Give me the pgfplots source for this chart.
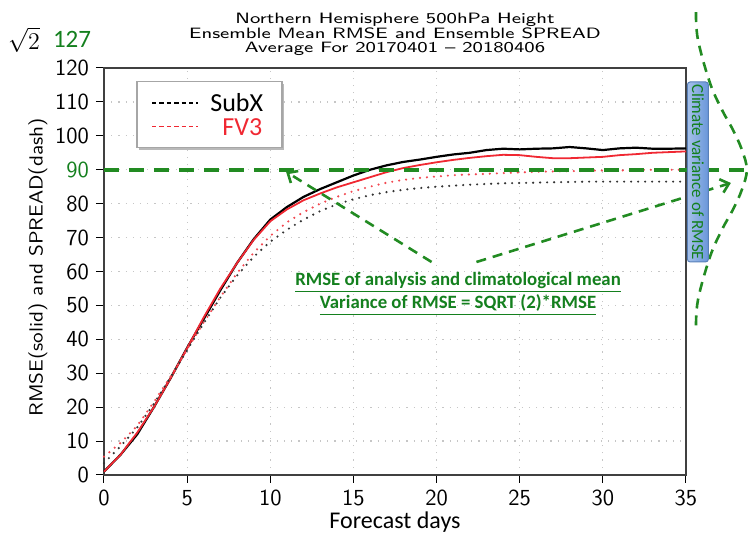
\documentclass[border=0pt]{standalone}
\usepackage{fontspec}
\setmainfont{Carlito}
\usepackage{graphicx}
\usepackage{pgfplots}
\pgfplotsset{compat=1.18}
\usetikzlibrary{arrows.meta}
\definecolor{ggreen}{RGB}{34,139,34}
\definecolor{tgreen}{RGB}{20,128,30}
\definecolor{fvred}{RGB}{240,40,50}
\definecolor{boxblue}{RGB}{105,150,218}

\pgfplotstableread{
day rmse
0 1
1 6
1.5 9
2 12
3 20
4 28.5
5 37.5
6 46
7 54.5
8 62.5
9 69.5
10 75.3
11 79
12 82
13 84.3
14 86.3
15 88.3
16 90
17 91.3
18 92.3
19 93
20 93.8
21 94.5
22 95
23 95.8
24 96.2
25 96
26 96.2
27 96.3
28 96.7
29 96.3
30 95.8
31 96.3
32 96.5
33 96.2
34 96.2
35 96.3
}\subxrmse

\pgfplotstableread{
day rmse
0 1
1 6
1.5 9.3
2 12.5
3 20
4 28.5
5 37.4
6 46.5
7 55
8 62.5
9 69.3
10 74.8
11 78.3
12 81
13 83
14 84.8
15 86.3
16 87.8
17 89.3
18 90.5
19 91.4
20 92.2
21 92.9
22 93.5
23 94
24 94.4
25 94.3
26 93.8
27 93.4
28 93.4
29 93.6
30 93.8
31 94.3
32 94.6
33 95
34 95.2
35 95.4
}\fvrmse

\pgfplotstableread{
day spread
0 3.5
1 8.5
2 14
3 21
4 28.8
5 36.8
6 44.8
7 52.3
8 58.8
9 64.3
10 68.8
11 72.3
12 75.3
13 77.8
14 79.8
15 81.3
16 82.5
17 83.4
18 84.1
19 84.6
20 85
21 85.3
22 85.6
23 85.8
24 86
25 86.1
26 86.2
27 86.3
28 86.4
29 86.5
30 86.5
31 86.5
32 86.5
33 86.5
34 86.5
35 86.5
}\subxspread

\pgfplotstableread{
day spread
0 5.4
1 9.5
2 14.5
3 21.5
4 29
5 37
6 45
7 52.5
8 59.5
9 65.5
10 70.5
11 74.5
12 77.5
13 80
14 82
15 83.7
16 85
17 86.2
18 87
19 87.6
20 88
21 88.4
22 88.6
23 88.8
24 89
25 89.2
26 89.4
27 89.5
28 89.6
29 89.7
30 89.8
31 89.8
32 89.9
33 90
34 90
35 90
}\fvspread

\newcommand\wide[1]{\scalebox{1.3}[1]{#1}}

\begin{document}
\begin{tikzpicture}
\begin{axis}[
  scale only axis, width=291pt, height=203.5pt,
  xmin=0, xmax=35, ymin=0, ymax=120,
  xtick={0,5,...,35}, ytick={0,10,...,120},
  yticklabels={0,10,20,30,40,50,60,70,80,\textcolor{tgreen}{90},100,110,120},
  /pgf/number format/assume math mode=true,
  tick label style={font=\sffamily\fontsize{11.5}{12}\selectfont},
  xtick pos=bottom, ytick pos=left, tick align=outside,
  major tick length=4pt, tick style={black, line width=0.5pt},
  grid=major, grid style={gray!45, line width=0.6pt, dash pattern=on 0.6pt off 3pt},
  axis line style={black!75, line width=0.8pt},
  xlabel={Forecast days},
  xlabel style={font=\fontsize{12}{12}\selectfont, at={(axis description cs:0.5,-0.1155)}, anchor=center},
  ylabel={\scalebox{1.12}[1]{RMSE(solid) and SPREAD(dash)}},
  ylabel style={font=\sffamily\fontsize{9.5}{10}\selectfont, at={(axis description cs:-0.1134,0.51)}, anchor=center},
  clip=false,
]
\addplot[black, line width=1.1pt] table[x=day, y=rmse] {\subxrmse};
\addplot[fvred, line width=0.9pt] table[x=day, y=rmse] {\fvrmse};
\addplot[black!80, line width=1.2pt, line cap=round, dash pattern=on 0pt off 3.5pt] table[x=day, y=spread] {\subxspread};
\addplot[fvred!85, line width=1.2pt, line cap=round, dash pattern=on 0pt off 3.5pt] table[x=day, y=spread] {\fvspread};

% legend box drawn by hand (shadow, frame, samples, names)
\fill[gray!55] (axis cs:2.12,115.3) rectangle (axis cs:10.84,95.9);
\draw[gray!70, fill=white, line width=0.6pt] (axis cs:1.98,115.9) rectangle (axis cs:10.70,96.5);
\draw[black, line width=0.7pt, dash pattern=on 2.2pt off 1.5pt] (axis cs:2.89,109.7) -- (axis cs:5.65,109.7);
\draw[fvred, line width=0.7pt, dash pattern=on 2.2pt off 1.5pt] (axis cs:2.89,102.7) -- (axis cs:5.65,102.7);
\node[anchor=west, inner sep=0pt, font=\fontsize{13}{13}\selectfont] at (axis cs:6.37,109.7) {SubX};
\node[anchor=west, inner sep=0pt, text=fvred, font=\fontsize{13}{13}\selectfont] at (axis cs:7.10,102.7) {FV3};

% climatological reference and annotations
\draw[ggreen, line width=2pt, dash pattern=on 7.5pt off 5pt] (axis cs:0,90) -- (axis cs:38.8,90);
\draw[ggreen, line width=1.3pt, dash pattern=on 5pt off 3.5pt, -{Straight Barb[length=4pt, width=7pt]}]
  (axis cs:19.7,62.8) -- (axis cs:10.95,89.4);
\draw[ggreen, line width=1.3pt, dash pattern=on 5pt off 3.5pt, -{Straight Barb[length=4pt, width=7pt]}]
  (axis cs:22.4,62.8) -- (axis cs:37.7,86.1);
\draw[ggreen, line width=1.3pt, dash pattern=on 5pt off 3.5pt] plot[smooth, tension=0.6] coordinates {
  (axis cs:35.60,136.5) (axis cs:35.72,128.3) (axis cs:36.44,115.6) (axis cs:37.16,107.7)
  (axis cs:37.82,101.8) (axis cs:38.36,95.9) (axis cs:38.66,90) (axis cs:38.36,84.1)
  (axis cs:37.82,78.2) (axis cs:37.16,72.3) (axis cs:36.44,64.3) (axis cs:35.72,51.6)
  (axis cs:35.60,42.8)};
\draw[rounded corners=1.5pt, left color=boxblue!60!white, right color=boxblue, draw=boxblue!85!black, line width=0.5pt]
  (axis cs:35.08,115.9) rectangle (axis cs:36.35,62.8);
\node[rotate=-90, text=tgreen, font=\fontsize{8.5}{9}\selectfont] at (axis cs:35.72,89.3) {Climate variance of RMSE};
\node[align=center, text=tgreen, font=\bfseries\fontsize{9.4}{10}\selectfont] at (axis cs:21.29,53.4)
  {\underline{RMSE of analysis and climatological mean}\\\underline{Variance of RMSE = SQRT (2)*RMSE}};

% title and corner labels
\node[align=center, font=\sffamily\fontsize{7.5}{7.2}\selectfont] at (axis description cs:0.5,1.082)
  {\wide{Northern Hemisphere 500hPa Height}\\\wide{Ensemble Mean RMSE and Ensemble SPREAD}\\\wide{Average For 20170401 -- 20180406}};
\node[font=\fontsize{13}{13}\selectfont] at (axis cs:-4.81,128.3) {$\sqrt{2}$};
\node[text=tgreen, font=\fontsize{12.5}{13}\selectfont] at (axis cs:-1.92,128.3) {127};
\end{axis}
\pgfresetboundingbox
\path (-52pt,-29pt) rectangle (323pt,237.5pt);
\end{tikzpicture}
\end{document}
